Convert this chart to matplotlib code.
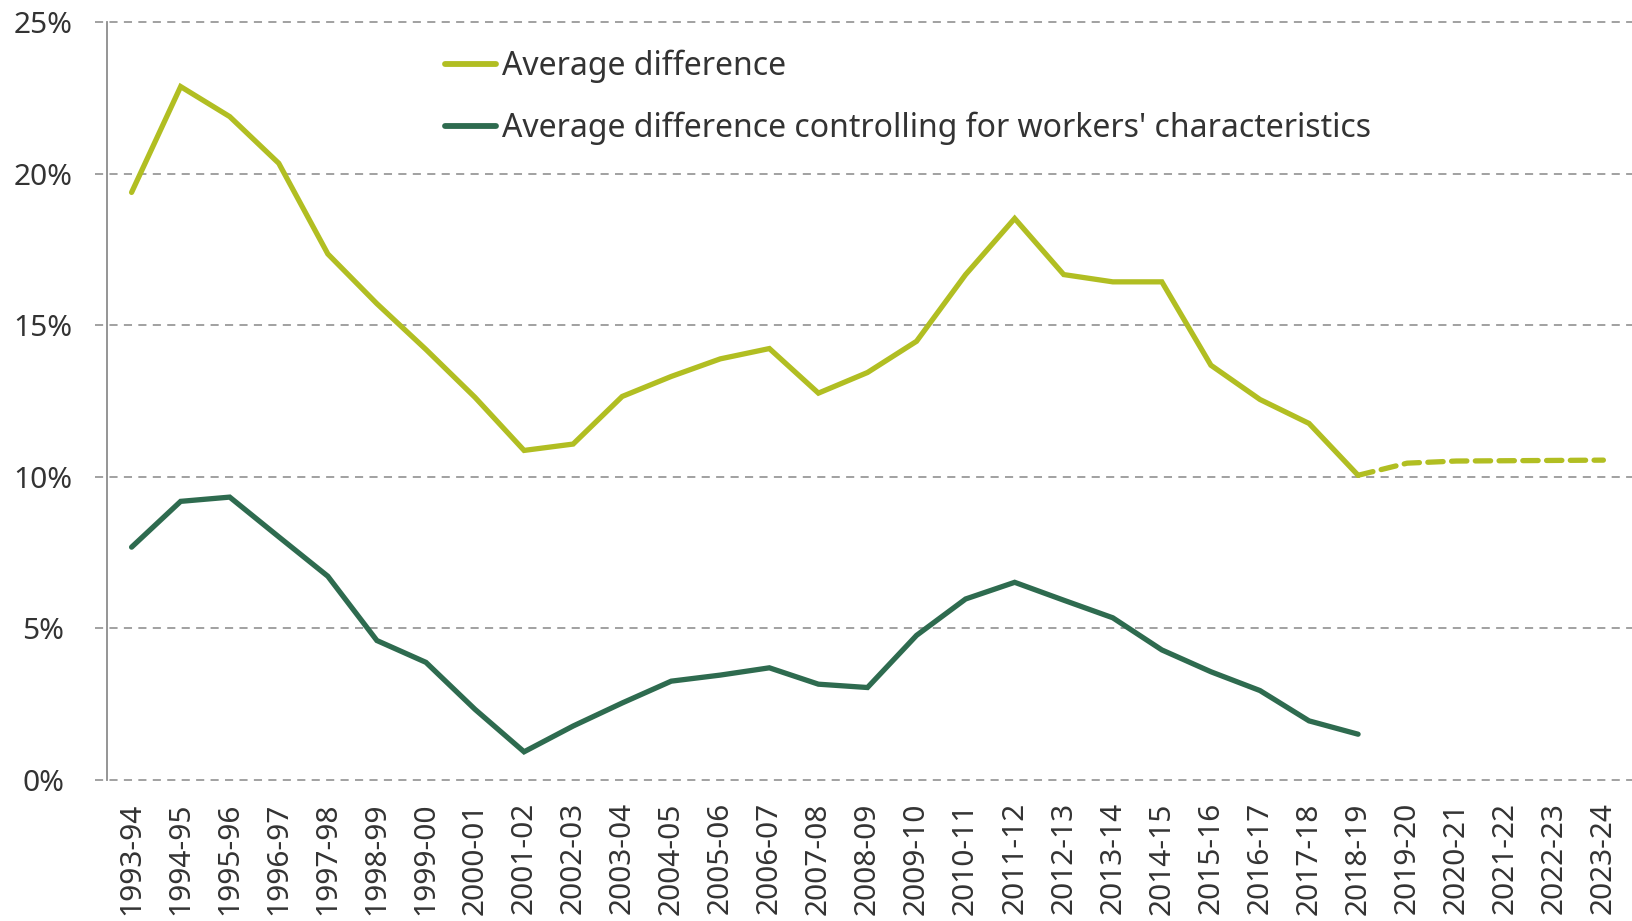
import matplotlib
matplotlib.use("Agg")
import matplotlib.pyplot as plt

plt.rcParams["font.family"] = ["Noto Sans", "DejaVu Sans"]

LIGHT = "#B1BE22"
DARK = "#2E6B4F"
GRID = "#9A9A9A"
TEXT = "#333333"

years = [
    "1993-94", "1994-95", "1995-96", "1996-97", "1997-98", "1998-99", "1999-00",
    "2000-01", "2001-02", "2002-03", "2003-04", "2004-05", "2005-06", "2006-07",
    "2007-08", "2008-09", "2009-10", "2010-11", "2011-12", "2012-13", "2013-14",
    "2014-15", "2015-16", "2016-17", "2017-18", "2018-19", "2019-20", "2020-21",
    "2021-22", "2022-23", "2023-24",
]

# observed series, 1993-94 to 2018-19 (%)
avg_diff = [
    19.38, 22.87, 21.88, 20.34, 17.35, 15.71, 14.20, 12.62, 10.87, 11.08,
    12.65, 13.31, 13.89, 14.23, 12.76, 13.44, 14.47, 16.67, 18.52, 16.67,
    16.43, 16.43, 13.68, 12.55, 11.76, 10.05,
]
avg_diff_controlled = [
    7.68, 9.19, 9.33, 8.02, 6.72, 4.60, 3.88, 2.33, 0.93, 1.78,
    2.54, 3.26, 3.46, 3.70, 3.16, 3.05, 4.77, 5.97, 6.52, 5.93,
    5.35, 4.29, 3.57, 2.95, 1.95, 1.51,
]
# projection, 2018-19 to 2023-24 (%)
avg_diff_proj = [10.05, 10.45, 10.52, 10.53, 10.54, 10.55]

fig = plt.figure(figsize=(16.32, 9.21), dpi=100)
ax = fig.add_axes([0.0656, 0.1531, 0.9319, 0.8230])

x_obs = list(range(len(avg_diff)))
x_proj = list(range(len(avg_diff) - 1, len(years)))

for v in [0, 5, 10, 15, 20, 25]:
    ax.axhline(v, xmin=-0.008, xmax=1.01, color=GRID, lw=1.3,
               ls=(0, (4.5, 3.5)), zorder=0, clip_on=False)

LW = 3.8
ax.plot(x_obs, avg_diff, color=LIGHT, lw=LW, solid_joinstyle="miter",
        solid_capstyle="round", label="Average difference")
ax.plot(x_proj, avg_diff_proj, color=LIGHT, lw=LW, ls=(0, (2.9, 1.6)),
        dash_capstyle="round")
ax.plot(x_obs, avg_diff_controlled, color=DARK, lw=LW, solid_joinstyle="miter",
        solid_capstyle="round",
        label="Average difference controlling for workers' characteristics")

ax.set_xlim(-0.5, len(years) - 0.5)
ax.set_ylim(0, 25)
ax.set_xticks(range(len(years)))
ax.set_xticklabels(years, rotation=90, fontsize=21.5, color=TEXT)
ax.set_yticks([0, 5, 10, 15, 20, 25])
ax.set_yticklabels(["0%", "5%", "10%", "15%", "20%", "25%"], fontsize=21.5, color=TEXT)
for lab in ax.get_yticklabels():
    lab.set_horizontalalignment("center")
ax.tick_params(axis="y", length=0, pad=46)
ax.tick_params(axis="x", length=0, pad=16)

for side in ["top", "right", "bottom"]:
    ax.spines[side].set_visible(False)
ax.spines["left"].set_color("#8C8C8C")
ax.spines["left"].set_linewidth(1.3)

leg = ax.legend(loc="upper left", bbox_to_anchor=(0.222, 0.964), frameon=False,
                fontsize=23, handlelength=1.6, handletextpad=0.2,
                labelspacing=0.9, borderpad=0, borderaxespad=0)
for t in leg.get_texts():
    t.set_color(TEXT)
for h in leg.get_lines():
    h.set_solid_capstyle("round")
    h.set_linewidth(4.2)

fig.savefig("out.png", dpi=100, facecolor="white")
